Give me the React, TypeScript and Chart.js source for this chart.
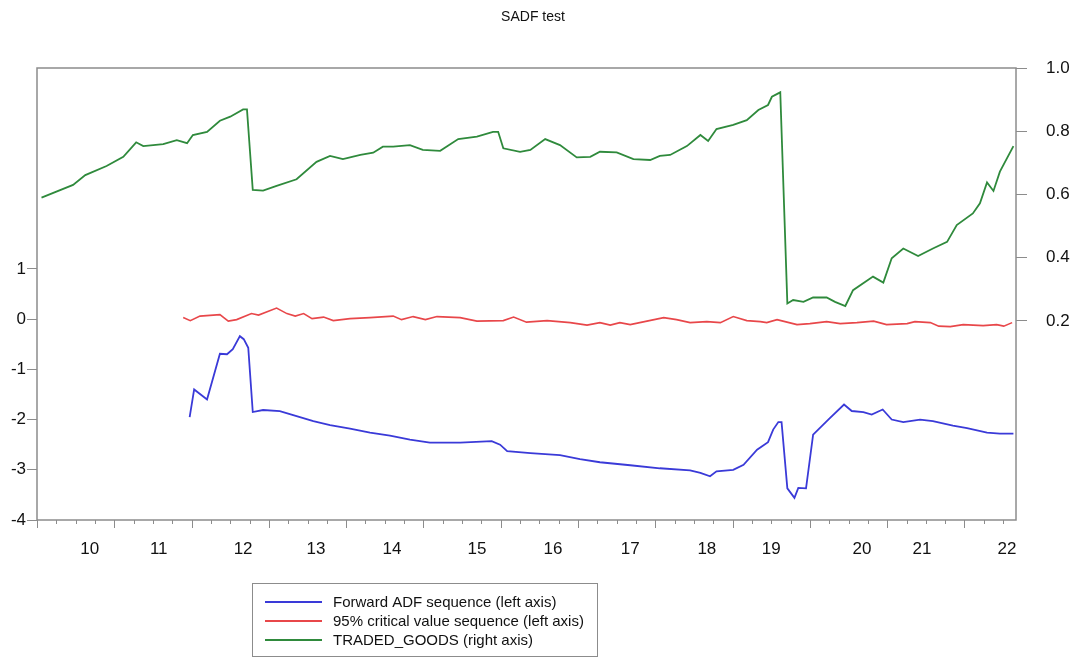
import { useEffect, useRef } from 'react';
import { Chart, registerables } from 'chart.js';

Chart.register(...registerables);

const FONT = "'Liberation Sans', Arial, Helvetica, sans-serif";
const titleText = 'SADF test';

// x axis year labels and their positions (observation index)
const yearLabels = ['10', '11', '12', '13', '14', '15', '16', '17', '18', '19', '20', '21', '22'];
const yearLabelObs = [7.7, 18.4, 31.5, 42.8, 54.6, 67.8, 79.6, 91.6, 103.5, 113.5, 127.6, 136.9, 150.1];

// left axis ticks / right axis ticks
const leftTicks = [-4, -3, -2, -1, 0, 1];
const rightTicks = [0.2, 0.4, 0.6, 0.8, 1.0];

// Forward ADF sequence (left axis)
const adfObs = [23.2, 23.9, 25.9, 27.9, 29.0, 29.9, 31.0, 31.6, 32.3, 33.0, 34.6, 37.2, 39.8, 42.4, 45.0, 48.1, 51.2, 54.3, 57.4, 60.5, 65.2, 70.1, 71.4, 72.5, 76.1, 80.7, 83.8, 86.9, 91.6, 96.2, 100.9, 102.5, 104.0, 105.0, 107.6, 109.2, 111.3, 113.0, 113.8, 114.6, 115.1, 116.0, 117.1, 117.7, 118.9, 120.0, 122.6, 124.8, 126.0, 127.8, 129.1, 130.8, 132.2, 134.0, 136.6, 138.6, 141.7, 143.9, 147.0, 149.0, 151.1];
const adfValues = [-1.95, -1.40, -1.60, -0.69, -0.70, -0.60, -0.34, -0.40, -0.57, -1.85, -1.81, -1.83, -1.93, -2.03, -2.11, -2.18, -2.26, -2.32, -2.40, -2.46, -2.46, -2.43, -2.50, -2.63, -2.67, -2.71, -2.79, -2.85, -2.91, -2.97, -3.01, -3.06, -3.13, -3.03, -3.00, -2.90, -2.60, -2.45, -2.20, -2.05, -2.05, -3.37, -3.56, -3.36, -3.37, -2.30, -1.97, -1.70, -1.83, -1.85, -1.90, -1.80, -2.00, -2.05, -2.00, -2.03, -2.12, -2.17, -2.26, -2.28, -2.28];

// 95% critical value sequence (left axis)
const critObs = [22.2, 23.3, 24.8, 27.9, 29.2, 30.5, 32.8, 33.9, 36.7, 38.3, 39.6, 40.9, 42.2, 44.0, 45.5, 48.1, 51.2, 54.8, 56.1, 57.9, 59.8, 61.6, 65.2, 67.8, 71.9, 73.5, 75.5, 78.7, 82.3, 84.9, 86.9, 88.5, 90.0, 91.6, 94.2, 96.8, 98.8, 100.9, 103.5, 105.6, 107.6, 109.7, 111.8, 112.8, 114.4, 117.5, 119.5, 122.1, 124.2, 126.8, 129.4, 131.4, 134.6, 135.8, 138.2, 139.5, 141.3, 143.3, 146.4, 148.5, 149.6, 150.9];
const critValues = [0.03, -0.03, 0.06, 0.09, -0.04, -0.01, 0.11, 0.08, 0.22, 0.11, 0.06, 0.11, 0.01, 0.04, -0.03, 0.01, 0.03, 0.06, -0.01, 0.05, -0.01, 0.05, 0.03, -0.04, -0.03, 0.04, -0.06, -0.03, -0.07, -0.12, -0.07, -0.12, -0.07, -0.11, -0.04, 0.03, -0.01, -0.07, -0.05, -0.07, 0.05, -0.03, -0.05, -0.07, -0.01, -0.11, -0.09, -0.05, -0.09, -0.07, -0.04, -0.11, -0.09, -0.05, -0.07, -0.14, -0.15, -0.11, -0.13, -0.11, -0.14, -0.07];

// TRADED_GOODS (right axis)
const goodsObs = [0.2, 5.1, 7.0, 10.3, 12.9, 14.9, 16.0, 19.1, 21.2, 22.8, 23.7, 25.9, 27.9, 29.5, 31.5, 32.1, 33.0, 34.6, 36.7, 39.8, 42.9, 45.0, 47.0, 49.7, 51.7, 53.2, 54.8, 57.4, 59.4, 62.1, 64.9, 67.8, 70.3, 71.1, 71.9, 74.5, 76.1, 78.4, 80.7, 83.3, 85.4, 86.9, 89.5, 92.1, 94.7, 96.2, 97.8, 100.4, 102.5, 103.7, 105.0, 107.6, 109.7, 111.5, 113.0, 113.6, 114.9, 116.0, 116.9, 118.5, 120.0, 122.1, 123.4, 125.0, 126.2, 129.3, 130.9, 132.2, 134.0, 136.3, 138.6, 140.8, 142.3, 144.8, 145.9, 147.0, 148.0, 149.0, 151.1];
const goodsValues = [0.590, 0.630, 0.661, 0.690, 0.719, 0.765, 0.753, 0.759, 0.772, 0.762, 0.788, 0.798, 0.833, 0.846, 0.869, 0.869, 0.614, 0.612, 0.627, 0.648, 0.703, 0.722, 0.712, 0.725, 0.732, 0.751, 0.751, 0.756, 0.741, 0.738, 0.775, 0.783, 0.798, 0.798, 0.746, 0.735, 0.741, 0.775, 0.756, 0.717, 0.719, 0.735, 0.733, 0.712, 0.709, 0.722, 0.725, 0.753, 0.788, 0.769, 0.807, 0.820, 0.835, 0.867, 0.883, 0.909, 0.923, 0.255, 0.266, 0.260, 0.274, 0.274, 0.260, 0.247, 0.297, 0.340, 0.321, 0.398, 0.429, 0.405, 0.429, 0.450, 0.503, 0.540, 0.572, 0.638, 0.611, 0.672, 0.753];

const seriesLabels = ['Forward ADF sequence (left axis)', '95% critical value sequence (left axis)', 'TRADED_GOODS (right axis)'];
const seriesColors = ['#3a3ad8', '#e8474a', '#2f8a3c'];

const zip = (xs: number[], ys: number[]) => xs.map((x, i) => ({ x, y: ys[i] }));

const FRAME = '#8c8c8c';
const TICK_FONT = 17;

const decorPlugin = {
  id: 'decor',
  afterDraw(chart: any) {
    const ctx = chart.ctx;
    const area = chart.chartArea;
    const xs = chart.scales.x;
    ctx.save();
    // frame
    ctx.strokeStyle = FRAME;
    ctx.lineWidth = 1.5;
    ctx.strokeRect(area.left, area.top, area.right - area.left, area.bottom - area.top);
    // x tick marks (quarterly minor, yearly major)
    ctx.lineWidth = 1;
    for (let k = 0; ; k++) {
      const v = 3 * k - 0.5;
      if (v > xs.max + 0.01) break;
      const px = Math.round(xs.getPixelForValue(v)) + 0.5;
      const len = k % 4 === 0 ? 8 : 4;
      ctx.beginPath();
      ctx.moveTo(px, area.bottom);
      ctx.lineTo(px, area.bottom + len);
      ctx.stroke();
    }
    // title
    ctx.fillStyle = '#111';
    ctx.font = `14px ${FONT}`;
    ctx.textAlign = 'center';
    ctx.textBaseline = 'middle';
    ctx.fillText(titleText, 533, 17);
    // legend box
    ctx.strokeStyle = FRAME;
    ctx.lineWidth = 1;
    ctx.strokeRect(252.5, 583.5, 345, 73);
    ctx.font = `15px ${FONT}`;
    ctx.textAlign = 'left';
    const rowY = [602, 621, 640];
    seriesLabels.forEach((lab, i) => {
      ctx.strokeStyle = seriesColors[i];
      ctx.lineWidth = 1.8;
      ctx.beginPath();
      ctx.moveTo(265, rowY[i]);
      ctx.lineTo(322, rowY[i]);
      ctx.stroke();
      ctx.fillStyle = '#111';
      ctx.fillText(lab, 333, rowY[i] + 1);
    });
    ctx.restore();
  },
};

export default function App() {
  const ref = useRef<HTMLCanvasElement | null>(null);
  useEffect(() => {
    if (!ref.current) return;
    const chart = new Chart(ref.current, {
      type: 'line',
      data: {
        datasets: [
          { label: seriesLabels[0], data: zip(adfObs, adfValues), borderColor: seriesColors[0], yAxisID: 'yL', borderWidth: 1.8, pointRadius: 0, tension: 0 },
          { label: seriesLabels[1], data: zip(critObs, critValues), borderColor: seriesColors[1], yAxisID: 'yL', borderWidth: 1.6, pointRadius: 0, tension: 0 },
          { label: seriesLabels[2], data: zip(goodsObs, goodsValues), borderColor: seriesColors[2], yAxisID: 'yR', borderWidth: 1.8, pointRadius: 0, tension: 0 },
        ],
      },
      options: {
        animation: false,
        responsive: false,
        devicePixelRatio: 1,
        layout: { padding: { left: 0, right: 0, top: 68, bottom: 0 } },
        plugins: { legend: { display: false }, title: { display: false }, tooltip: { enabled: false } },
        scales: {
          x: {
            type: 'linear',
            min: -0.5,
            max: 151.5,
            afterBuildTicks: (s: any) => { s.ticks = yearLabelObs.map((v) => ({ value: v })); },
            afterFit: (s: any) => { s.height = 145; },
            grid: { display: false, drawTicks: false },
            border: { display: false },
            ticks: {
              autoSkip: false,
              maxRotation: 0,
              padding: 19,
              color: '#111',
              font: { family: FONT, size: TICK_FONT },
              callback: (v: any) => {
                const idx = yearLabelObs.indexOf(Number(v));
                return idx >= 0 ? yearLabels[idx] : '';
              },
            },
          },
          yL: {
            type: 'linear',
            position: 'left',
            min: -4,
            max: 5,
            afterBuildTicks: (s: any) => { s.ticks = leftTicks.map((v) => ({ value: v })); },
            afterFit: (s: any) => { s.width = 37; },
            grid: { drawOnChartArea: false, drawTicks: true, tickLength: 10, tickColor: FRAME, color: FRAME },
            border: { display: false },
            ticks: { padding: 1, color: '#111', font: { family: FONT, size: TICK_FONT }, callback: (v: any) => String(v) },
          },
          yR: {
            type: 'linear',
            position: 'right',
            min: -0.43,
            max: 1.0,
            afterBuildTicks: (s: any) => { s.ticks = rightTicks.map((v) => ({ value: v })); },
            afterFit: (s: any) => { s.width = 64; },
            grid: { drawOnChartArea: false, drawTicks: true, tickLength: 11, tickColor: FRAME, color: FRAME },
            border: { display: false },
            ticks: { padding: 19, color: '#111', font: { family: FONT, size: TICK_FONT }, callback: (v: any) => Number(v).toFixed(1) },
          },
        },
      },
      plugins: [decorPlugin],
    } as any);
    return () => chart.destroy();
  }, []);
  return (
    <div style={{ position: 'fixed', left: 0, top: 0, width: 1080, height: 665, background: '#fff' }}>
      <canvas ref={ref} width={1080} height={665} style={{ display: 'block' }} />
    </div>
  );
}
